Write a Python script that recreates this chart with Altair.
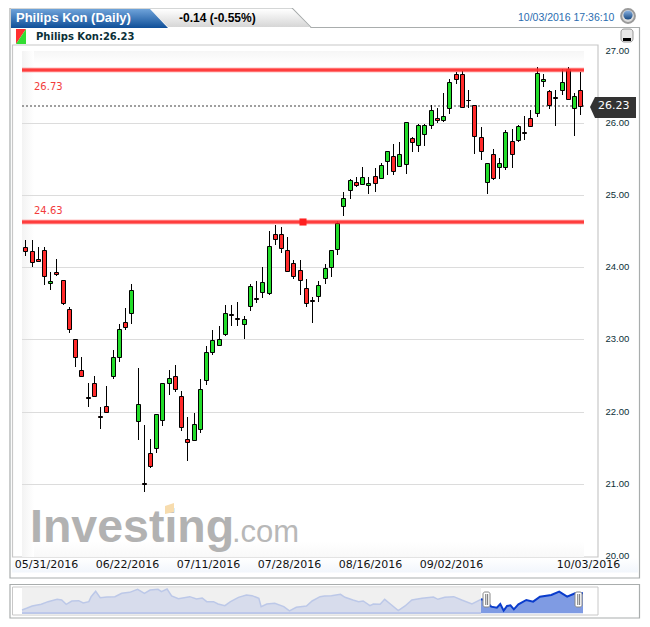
import altair as alt
import pandas as pd

# ---- candles ----
opens = [24.28,24.22,24.11,24.24,23.78,23.93,23.82,23.42,23.01,22.58,22.20,22.40,21.94,22.08,22.50,22.76,23.24,23.36,21.875,21.01,21.43,21.50,21.89,22.40,22.49,
         22.22,21.625,21.61,21.76,22.44,22.82,22.92,23.08,23.35,23.29,23.22,23.46,23.57,23.65,23.64,24.46,24.46,24.24,24.06,23.96,23.71,23.54,23.60,23.85,24.00,24.25,
         24.85,25.07,25.18,25.155,25.14,25.27,25.23,25.47,25.54,25.40,25.43,25.79,25.69,25.84,25.97,26.07,26.04,26.20,26.67,
         26.68,26.32,26.25,25.81,25.18,25.57,25.39,25.39,25.75,25.76,25.87,26.07,26.14,26.58,26.44,26.36,26.45,26.74,26.21,26.46]
highs = [24.38,24.38,24.28,24.28,23.93,24.12,23.82,23.45,23.01,22.75,22.39,22.50,22.07,22.35,22.86,23.21,23.44,23.77,22.61,21.82,21.62,21.97,22.39,22.58,22.64,
         22.29,21.93,21.98,22.45,22.91,23.13,23.185,23.47,23.48,23.52,23.33,23.77,23.81,24.00,24.50,24.58,24.56,24.42,24.10,24.10,23.84,23.59,23.81,24.04,24.24,24.64,
         25.04,25.22,25.25,25.39,25.25,25.37,25.45,25.61,25.70,25.73,26.01,25.81,25.99,25.99,26.24,26.21,26.41,26.61,26.71,
         26.72,26.45,26.25,25.94,25.45,25.64,25.51,25.90,25.92,25.97,26.10,26.18,26.77,26.67,26.45,26.46,26.75,26.77,26.41,26.71]
lows = [24.16,24.00,24.09,23.76,23.68,23.875,23.47,23.09,22.62,22.50,22.07,22.21,21.76,22.00,22.45,22.69,23.125,23.21,21.61,20.89,21.22,21.43,21.80,22.23,22.27,
        21.73,21.31,21.61,21.70,22.37,22.78,22.92,23.05,23.18,23.19,23.00,23.39,23.51,23.58,23.61,24.31,24.19,23.95,23.83,23.62,23.45,23.23,23.52,23.77,23.86,24.17,
        24.71,24.94,25.11,25.14,25.02,25.04,25.23,25.28,25.28,25.40,25.29,25.60,25.59,25.68,25.92,26.00,26.01,26.12,26.54,
        26.20,26.20,25.57,25.48,25.02,25.21,25.22,25.35,25.37,25.74,25.76,25.96,26.08,26.50,26.19,25.96,26.39,26.33,25.82,26.11]
closes = [24.22,24.07,24.09,23.875,23.81,23.91,23.50,23.14,22.76,22.50,22.19,22.21,21.93,22.00,22.76,23.14,23.17,23.68,22.10,21.00,21.25,21.97,22.39,22.47,22.31,
          21.78,21.58,21.83,22.31,22.82,22.99,23.00,23.36,23.34,23.28,23.28,23.74,23.56,23.79,24.29,24.39,24.26,23.95,23.875,23.82,23.51,23.53,23.75,23.99,24.24,24.61,
          24.96,25.21,25.14,25.25,25.17,25.16,25.42,25.61,25.33,25.57,26.01,25.73,25.97,25.97,26.18,26.04,26.10,26.57,26.60,
          26.22,26.31,25.82,25.61,25.45,25.24,25.45,25.875,25.57,25.96,25.86,25.96,26.69,26.61,26.25,26.34,26.57,26.33,26.37,26.23]

# ---- overview strip ----
spark_day = [0,4,9,17,23,31,35,39,44,50,54,59,61,65,69,75,82,88,95,102,108,113,120,123,128,132,138,148,154,159,163,169,173,179,184,191,198,203,209,211,216,223,231,236,242,251,256,263,267,
             273,281,285,292,297,301,307,310,316,320,325,332,338,344,353,363,367,373,381,388,397,405]
spark_val = [21.2,21.7,22.4,22.9,23.7,24.4,24.2,22.9,23.9,24.0,23.3,23.7,25.2,26.8,24.9,25.1,25.2,26.2,26.5,27.4,26.2,27.2,27.4,26.7,27.5,25.4,24.6,25.2,24.5,24.8,23.7,23.7,23.0,22.5,23.7,25.0,25.7,25.5,24.7,22.2,23.0,23.2,22.2,20.9,22.0,22.4,23.9,25.2,25.4,
             25.5,25.9,25.0,24.2,23.7,23.9,22.5,23.0,22.9,24.4,23.0,21.0,22.4,24.2,24.7,25.1,24.4,25.0,25.2,24.2,23.0,24.4]
sel_day = [405,409,414,419,422,425,428,431,434,438,445,451,457,467,474,481,488,495]
sel_val = [24.4,24.2,22.2,21.9,23.0,21.0,22.4,22.6,21.4,22.9,24.2,23.7,25.2,25.7,26.7,25.2,26.2,26.2]
spark_base = 20.2

grid_prices = [21, 22, 23, 24, 25, 26]
y_ticks = [20, 21, 22, 23, 24, 25, 26, 27]
date_idx = [0, 16, 29, 42, 55, 68, 89]
date_labels = ["05/31/2016", "06/22/2016", "07/11/2016", "07/28/2016", "08/16/2016", "09/02/2016", "10/03/2016"]
level_prices = [26.73, 24.63]
last_price = 26.23

W, H = 634, 611
TXT = "#0b2f38"
dummy = alt.Data(values=[{"a": 1}])


def rect(x0, y0, x1, y1, **kw):
    return alt.Chart(dummy).mark_rect(**kw).encode(
        x=alt.value(x0 - 8), x2=alt.value(x1 - 8), y=alt.value(y0 - 8), y2=alt.value(y1 - 8))


def txt(s, x, y, **kw):
    kw.setdefault("baseline", "middle")
    kw.setdefault("align", "left")
    return alt.Chart(dummy).mark_text(text=s, **kw).encode(x=alt.value(x - 8), y=alt.value(y - 8))


def path(d, **kw):
    # page pixel path, drawn 1:1 in chart coordinates
    return alt.Chart(dummy).mark_point(shape=d, size=4, opacity=1, **kw).encode(x=alt.value(-8), y=alt.value(-8))


def vgrad(top, bottom):
    return alt.Gradient(gradient="linear", x1=0, x2=0, y1=0, y2=1,
                        stops=[alt.GradientStop(color=top, offset=0), alt.GradientStop(color=bottom, offset=1)])


def hgrad(left, right):
    return alt.Gradient(gradient="linear", x1=0, x2=1, y1=0, y2=0,
                        stops=[alt.GradientStop(color=left, offset=0), alt.GradientStop(color=right, offset=1)])


chrome = [
    # outer panel with tab outline
    path("M10 8 L292 8 L311 27.5 L639.5 27.5 L639.5 578 L10 578 Z", fill="#ffffff", stroke="#a9adad", strokeWidth=1.2, filled=True),
    path("M150 9 L292 9 L310 27 L168 27 Z", fill=vgrad("#ffffff", "#d6d6d6"), filled=True, strokeWidth=0),
    path("M11 9 L150 9 L168 28 L11 28 Z", fill=vgrad("#6fa3da", "#0f4f98"), filled=True, strokeWidth=0),
    txt("Philips Kon (Daily)", 16, 18, font="Liberation Sans", fontSize=13, fontWeight="bold", color="#ffffff"),
    txt("-0.14 (-0.55%)", 179, 18, font="Liberation Sans", fontSize=12, fontWeight="bold", color="#000000"),
    txt("10/03/2016 17:36:10", 518, 17.5, font="Liberation Sans", fontSize=10.5, color="#2a6db0"),
    # globe
    alt.Chart(dummy).mark_point(shape="circle", size=190, filled=True, fill="#dddddd", stroke="#9a9a9a", opacity=1).encode(x=alt.value(620), y=alt.value(8)),
    alt.Chart(dummy).mark_point(shape="circle", size=85, filled=True, fill=vgrad("#8cb4e4", "#14467f"), opacity=1, strokeWidth=0).encode(x=alt.value(620), y=alt.value(7)),
    # legend row
    path("M16 29 L26 29 L16 44 Z", fill="#ff3030", filled=True, strokeWidth=0),
    path("M26 29 L26 44 L16 44 Z", fill="#33dd33", filled=True, strokeWidth=0),
    txt("Philips Kon:26.23", 36, 36.5, font="DejaVu Sans", fontSize=10, fontWeight="bold", color=TXT),
    # minimise button
    rect(621, 29, 633, 42, fill="#e8e8e8", stroke="#999999", strokeWidth=1, cornerRadius=3),
    rect(623, 38, 631, 41, fill="#000000"),
    # plot frame
    rect(12.5, 45, 598, 557, fill="#ffffff", stroke="#c8c8c8", strokeWidth=1.2),
    rect(22, 51, 584, 64, fill=vgrad("#f6f6f6", "#ffffff")),
    rect(22, 51, 34, 557, fill=hgrad("#f3f3f3", "#ffffff")),
    rect(34, 542, 584, 557, fill=vgrad("#ffffff", "#f8f8f8")),
    rect(12, 558, 638, 572.5, fill=vgrad("#ffffff", "#f2f6fc")),
    # overview panel
    rect(10, 584.5, 639.5, 618, fill="#ffffff", stroke="#a9adad", strokeWidth=1.2),
    rect(12.5, 587, 598, 615, fill="#ffffff", stroke="#c8c8c8", strokeWidth=1),
    rect(22, 587.5, 481, 614.5, fill="#f0f0f0"),
]

logo = [
    txt("Investing", 30, 542, baseline="alphabetic", font="Liberation Sans", fontSize=46.5, fontWeight="bold", color="#b2b2b2"),
    txt(".com", 232, 542, baseline="alphabetic", font="Liberation Sans", fontSize=31, color="#b8b8b8"),
    path("M165 506 L174 503 L174 512 L165 514 Z", fill="#f7dcae", filled=True, strokeWidth=0),
]

# ---- main chart ----
candles = pd.DataFrame({"i": range(len(opens)), "o": opens, "h": highs, "l": lows, "c": closes})
candles["dir"] = ["up" if c > o else "down" for o, c in zip(opens, closes)]

xscale = alt.Scale(domain=[0, 89], range=[17.3, 572.3], nice=False, zero=False, padding=0, round=True)
yscale = alt.Scale(domain=[20, 27], range=[548.0, 42.6], nice=False, zero=False, round=True)
yaxis = alt.Axis(orient="right", offset=-44, values=y_ticks, format=".2f", title=None, grid=False, domain=False,
                 ticks=False, labelPadding=7, labelFont="Liberation Sans", labelFontSize=9.5, labelColor=TXT,
                 labelOverlap=False, labelFlush=False, labelAlign="left", zindex=1, labelOffset=-1)
map_expr = "{" + ",".join(f"'{i}':'{d}'" for i, d in zip(date_idx, date_labels)) + "}[toString(datum.value)]"
xaxis = alt.Axis(orient="bottom", offset=-62, values=date_idx, labelExpr=map_expr, title=None, grid=False, domain=False,
                 ticks=False, labelPadding=1, labelFont="DejaVu Sans", labelFontSize=11, labelColor="#111111",
                 labelOverlap=False, labelFlush=False, labelAngle=0, labelBaseline="top", zindex=1,
                 labelOffset={"condition": [{"test": "datum.value==0", "value": 21},
                                            {"test": "datum.value==89", "value": 8}], "value": 2})


def Y(field):
    return alt.Y(field, type="quantitative", scale=yscale, axis=yaxis)


grid = alt.Chart(pd.DataFrame({"p": grid_prices})).mark_rule(color="#dcdcdc", strokeWidth=1, yOffset=0.5).encode(
    y=Y("p"), x=alt.value(14), x2=alt.value(576))

levels_df = pd.DataFrame({"p": level_prices, "lab": [f"{v:.2f}" for v in level_prices]})
lev_wide = alt.Chart(levels_df).mark_rule(color="#ff2020", strokeWidth=4.5, opacity=0.55).encode(
    y=Y("p"), x=alt.value(14), x2=alt.value(576))
lev_core = alt.Chart(levels_df).mark_rule(color="#ff3030", strokeWidth=2.5, opacity=0.85).encode(
    y=Y("p"), x=alt.value(14), x2=alt.value(576))
lev_lab_a = alt.Chart(levels_df[levels_df.p > 25]).mark_text(align="left", dy=17, font="DejaVu Sans", fontSize=10, color="#f23c3c").encode(
    y=Y("p"), x=alt.value(26), text="lab:N")
lev_lab_b = alt.Chart(levels_df[levels_df.p < 25]).mark_text(align="left", dy=-11, font="DejaVu Sans", fontSize=10, color="#f23c3c").encode(
    y=Y("p"), x=alt.value(26), text="lab:N")
marker = alt.Chart(levels_df[levels_df.p < 25]).mark_square(size=50, color="#ff2020", opacity=1).encode(
    y=Y("p"), x=alt.value(295))

last_df = pd.DataFrame({"p": [last_price], "lab": [f"{last_price:.2f}"]})
last_line = alt.Chart(last_df).mark_rule(color="#808080", strokeWidth=1.5, strokeDash=[2, 2]).encode(
    y=Y("p"), x=alt.value(14), x2=alt.value(576))

wicks = alt.Chart(candles).mark_rule(color="#000000", strokeWidth=1, xOffset=0.5).encode(
    x=alt.X("i", type="quantitative", scale=xscale, axis=xaxis),
    y=Y("h"), y2="l")
bodies = alt.Chart(candles).mark_bar(size=4, stroke="#000000", strokeWidth=1, xOffset=0.5, yOffset=0.5, y2Offset=0.5).encode(
    x=alt.X("i", type="quantitative", scale=xscale, axis=xaxis),
    y=Y("o"), y2="c",
    color=alt.Color("dir:N", legend=None, scale=alt.Scale(domain=["up", "down"], range=["#22dd2a", "#ff2a2a"])))

tag = path("M590 107 L595 97 L636 97 L636 118 L595 118 Z", fill="#333333", filled=True, strokeWidth=0)
tag_text = alt.Chart(last_df).mark_text(align="left", font="DejaVu Sans", fontSize=11, color="#ffffff").encode(
    y=Y("p"), x=alt.value(590), text="lab:N")

main = alt.layer(grid, *logo, last_line, wicks, bodies, lev_wide, lev_core, lev_lab_a, lev_lab_b, marker, tag, tag_text)

# ---- overview ----
sx = alt.Scale(domain=[0, 495], range=[14, 575], nice=False, zero=False)
sy = alt.Scale(domain=[20.2, 27.5], range=[605.3, 581], nice=False, zero=False)
past = pd.DataFrame({"d": spark_day, "v": spark_val, "b": spark_base})
sel = pd.DataFrame({"d": sel_day, "v": sel_val, "b": spark_base})


def SX():
    return alt.X("d", type="quantitative", scale=sx, axis=None)


def SY():
    return alt.Y("v", type="quantitative", scale=sy, axis=None)


past_area = alt.Chart(past).mark_area(color="#d7dcec", opacity=1).encode(x=SX(), y=SY(), y2="b")
past_line = alt.Chart(past).mark_line(color="#bcc8e8", strokeWidth=1.5).encode(x=SX(), y=SY())
past_base = alt.Chart(past).mark_rule(color="#bcc8e8", strokeWidth=1).encode(y=alt.Y("b", type="quantitative", scale=sy, axis=None), x=alt.value(14), x2=alt.value(473))
sel_area = alt.Chart(sel).mark_area(color="#7f9be3", opacity=1).encode(x=SX(), y=SY(), y2="b")
sel_line = alt.Chart(sel).mark_line(color="#0a3ccc", strokeWidth=2).encode(x=SX(), y=SY())
spark = alt.layer(past_area, past_line, past_base, sel_area, sel_line)

handles = [
    rect(483, 592, 490, 607, fill="#ffffff", stroke="#888888", strokeWidth=1, cornerRadius=2),
    rect(485.5, 594, 486.2, 605, fill="#333333"),
    rect(487.4, 594, 488.1, 605, fill="#333333"),
    rect(575, 592, 582, 607, fill="#ffffff", stroke="#888888", strokeWidth=1, cornerRadius=2),
    rect(577.5, 594, 578.2, 605, fill="#333333"),
    rect(579.4, 594, 580.1, 605, fill="#333333"),
]

chart = alt.layer(*chrome, main, spark, *handles).resolve_scale(x="independent", y="independent").properties(
    width=W, height=H, padding=0, autosize=alt.AutoSizeParams(type="none"),
    background="#ffffff"
).configure_view(stroke=None)

chart.save("out.html", embed_options={"renderer": "svg", "actions": False})
